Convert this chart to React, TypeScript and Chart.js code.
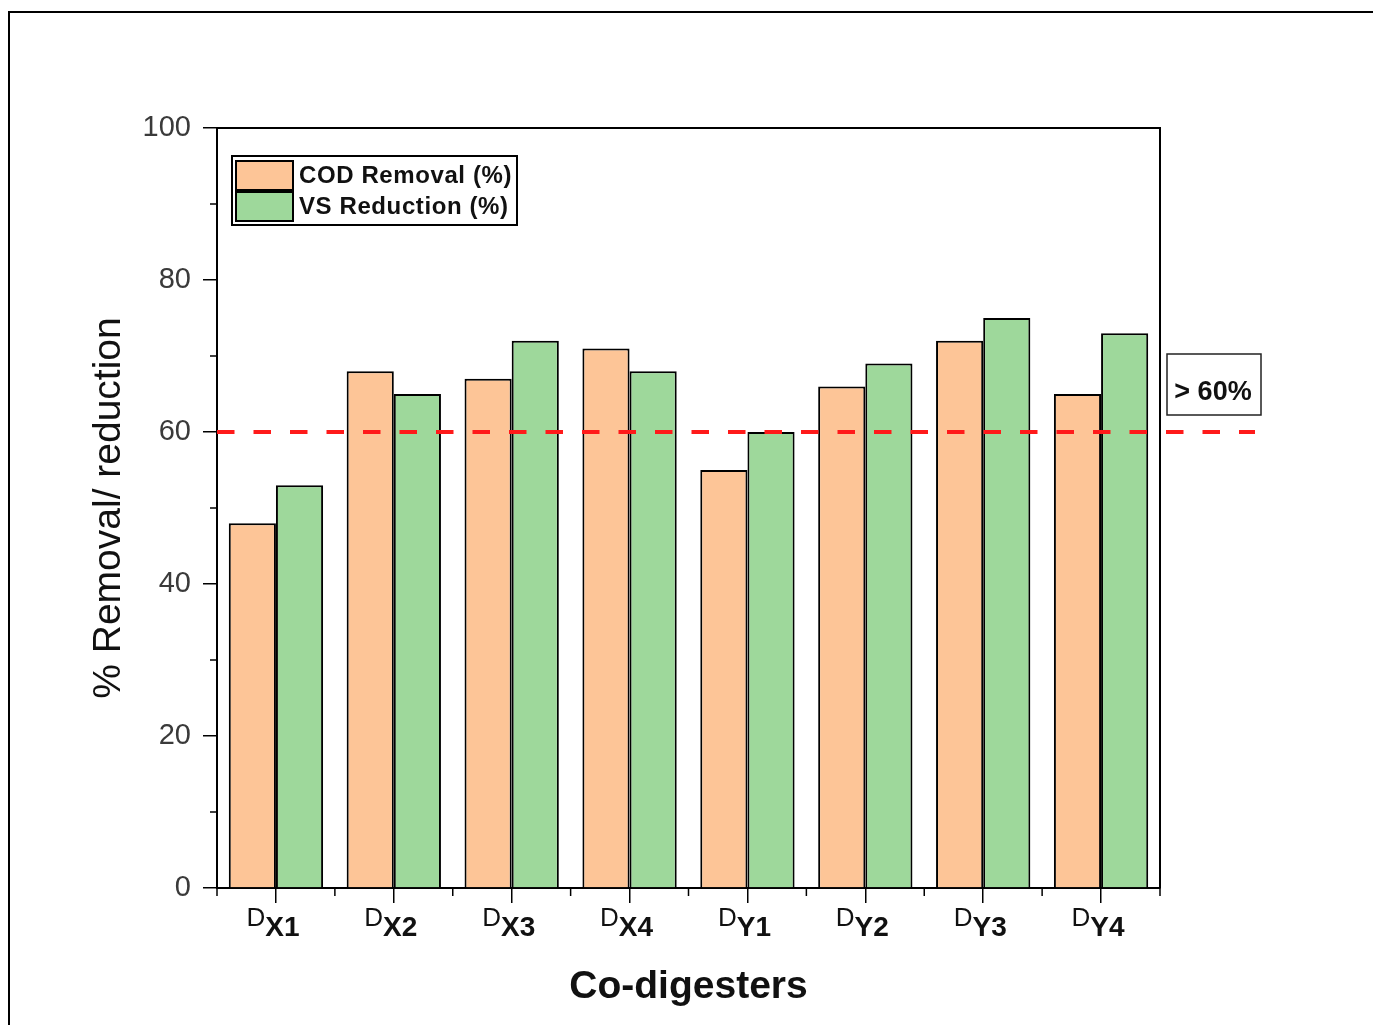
import React, { useEffect, useRef } from 'react';
import { Chart, registerables } from 'chart.js';

Chart.register(...registerables);

const categories = ['DX1', 'DX2', 'DX3', 'DX4', 'DY1', 'DY2', 'DY3', 'DY4'];
const codRemoval = [48, 68, 67, 71, 55, 66, 72, 65];
const vsReduction = [53, 65, 72, 68, 60, 69, 75, 73];
const seriesLabels = ['COD Removal (%)', 'VS Reduction (%)'];
const yTicks = [0, 20, 40, 60, 80, 100];
const thresholdValue = 60;
const thresholdLabel = '> 60%';
const xTitle = 'Co-digesters';
const yTitle = '% Removal/ reduction';

const FONT = '"Liberation Sans", Arial, sans-serif';
const ORANGE = '#FDC597';
const GREEN = '#9ED89B';

const decorPlugin = {
  id: 'decor',
  beforeDraw(chart: any) {
    const ctx = chart.ctx;
    ctx.save();
    ctx.fillStyle = '#fff';
    ctx.fillRect(0, 0, chart.width, chart.height);
    ctx.strokeStyle = '#000';
    ctx.lineWidth = 2;
    ctx.beginPath();
    ctx.moveTo(9, chart.height);
    ctx.lineTo(9, 12);
    ctx.lineTo(chart.width, 12);
    ctx.stroke();
    ctx.restore();
  },
  afterDraw(chart: any) {
    const { ctx, chartArea: a, scales } = chart;
    const xs = scales.x;
    const ys = scales.y;
    ctx.save();
    ctx.strokeStyle = '#000';
    ctx.lineWidth = 2;
    // frame top/right
    ctx.beginPath();
    ctx.moveTo(a.left, a.top);
    ctx.lineTo(a.right, a.top);
    ctx.lineTo(a.right, a.bottom);
    ctx.stroke();
    // y minor ticks
    ctx.lineWidth = 1.5;
    for (let i = 0; i < yTicks.length - 1; i++) {
      const v = (yTicks[i] + yTicks[i + 1]) / 2;
      const py = ys.getPixelForValue(v);
      ctx.beginPath();
      ctx.moveTo(a.left - 7, py);
      ctx.lineTo(a.left, py);
      ctx.stroke();
    }
    // x minor ticks at category boundaries
    for (let i = 0; i <= categories.length; i++) {
      const px = xs.getPixelForValue(i - 0.5);
      ctx.beginPath();
      ctx.moveTo(px, a.bottom);
      ctx.lineTo(px, a.bottom + 8);
      ctx.stroke();
    }
    // x tick labels with subscripts
    ctx.fillStyle = '#111';
    ctx.textBaseline = 'alphabetic';
    ctx.textAlign = 'left';
    const mainFont = `26px ${FONT}`;
    const subFont = `bold 28px ${FONT}`;
    categories.forEach((lab, i) => {
      const px = xs.getPixelForValue(i);
      const main = lab.slice(0, 1);
      const sub = lab.slice(1);
      ctx.font = mainFont;
      const w1 = ctx.measureText(main).width;
      ctx.font = subFont;
      const w2 = ctx.measureText(sub).width;
      const start = px - (w1 + w2) / 2 - 3;
      ctx.font = mainFont;
      ctx.fillText(main, start, a.bottom + 38);
      ctx.font = subFont;
      ctx.fillText(sub, start + w1, a.bottom + 48);
    });
    // threshold line
    const ty = ys.getPixelForValue(thresholdValue);
    ctx.strokeStyle = '#FF1A1A';
    ctx.lineWidth = 4;
    ctx.setLineDash([17.5, 19]);
    ctx.beginPath();
    ctx.moveTo(a.left, ty);
    ctx.lineTo(a.right + 95, ty);
    ctx.stroke();
    ctx.setLineDash([]);
    // threshold label box
    const bx = a.right + 7;
    const bw = 94;
    const byTop = ty - 78;
    const bh = 61;
    ctx.fillStyle = '#fff';
    ctx.fillRect(bx, byTop, bw, bh);
    ctx.strokeStyle = '#222';
    ctx.lineWidth = 1.5;
    ctx.strokeRect(bx, byTop, bw, bh);
    ctx.fillStyle = '#111';
    ctx.font = `bold 27px ${FONT}`;
    ctx.textAlign = 'center';
    ctx.textBaseline = 'middle';
    ctx.fillText(thresholdLabel, bx + bw / 2 - 1, byTop + bh / 2 + 8);
    // legend
    const lx = a.left + 15;
    const lt = a.top + 28;
    const lw = 285;
    const lh = 69;
    ctx.fillStyle = '#fff';
    ctx.fillRect(lx, lt, lw, lh);
    ctx.strokeStyle = '#000';
    ctx.lineWidth = 2;
    ctx.strokeRect(lx, lt, lw, lh);
    ctx.textAlign = 'left';
    ctx.textBaseline = 'middle';
    ctx.font = `bold 24px ${FONT}`;
    chart.data.datasets.forEach((ds: any, i: number) => {
      const sy = lt + 5 + i * 31;
      ctx.fillStyle = ds.backgroundColor;
      ctx.fillRect(lx + 4, sy, 57, 29);
      ctx.strokeStyle = '#000';
      ctx.lineWidth = 2;
      ctx.strokeRect(lx + 4, sy, 57, 29);
      ctx.fillStyle = '#111';
      try { (ctx as any).letterSpacing = '0.6px'; } catch (e) {}
      ctx.fillText(ds.label, lx + 67, sy + 15);
      try { (ctx as any).letterSpacing = '0px'; } catch (e) {}
    });
    ctx.restore();
  },
};

export default function App() {
  const ref = useRef<HTMLCanvasElement | null>(null);
  useEffect(() => {
    if (!ref.current) return;
    const chart = new Chart(ref.current, {
      type: 'bar',
      data: {
        labels: categories,
        datasets: [
          {
            label: seriesLabels[0],
            data: codRemoval,
            backgroundColor: ORANGE,
            borderColor: '#000',
            borderWidth: 2,
            categoryPercentage: 0.8,
            barPercentage: 1,
          },
          {
            label: seriesLabels[1],
            data: vsReduction,
            backgroundColor: GREEN,
            borderColor: '#000',
            borderWidth: 2,
            categoryPercentage: 0.8,
            barPercentage: 1,
          },
        ],
      },
      options: {
        responsive: false,
        animation: false,
        devicePixelRatio: 1,
        layout: { padding: { top: 128, right: 213, left: 0, bottom: 0 } },
        plugins: {
          legend: { display: false },
          tooltip: { enabled: false },
        },
        scales: {
          x: {
            grid: {
              display: true,
              offset: false,
              drawOnChartArea: false,
              drawTicks: true,
              tickLength: 15,
              color: '#000',
              lineWidth: 1.5,
            },
            border: { display: true, color: '#000', width: 2 },
            ticks: { display: false },
            title: {
              display: true,
              text: xTitle,
              color: '#111',
              font: { family: FONT, size: 39, weight: 'bold' },
              padding: { top: 0, bottom: 14 },
            },
            afterFit(scale: any) {
              scale.height = 137;
            },
          },
          y: {
            min: yTicks[0],
            max: yTicks[yTicks.length - 1],
            ticks: {
              stepSize: yTicks[1] - yTicks[0],
              color: '#3a3a3a',
              font: { family: FONT, size: 29 },
              padding: 12,
            },
            grid: {
              display: true,
              drawOnChartArea: false,
              drawTicks: true,
              tickLength: 14,
              color: '#000',
              lineWidth: 1.5,
            },
            border: { display: true, color: '#000', width: 2 },
            title: {
              display: true,
              text: yTitle,
              color: '#111',
              font: { family: FONT, size: 39 },
              padding: { top: 86, bottom: 0 },
            },
            afterFit(scale: any) {
              scale.width = 217;
            },
          },
        },
      },
      plugins: [decorPlugin],
    } as any);
    return () => chart.destroy();
  }, []);
  return (
    <div style={{ position: 'absolute', left: 0, top: 0, width: 1373, height: 1025 }}>
      <canvas ref={ref} width={1373} height={1025} style={{ display: 'block' }} />
    </div>
  );
}
